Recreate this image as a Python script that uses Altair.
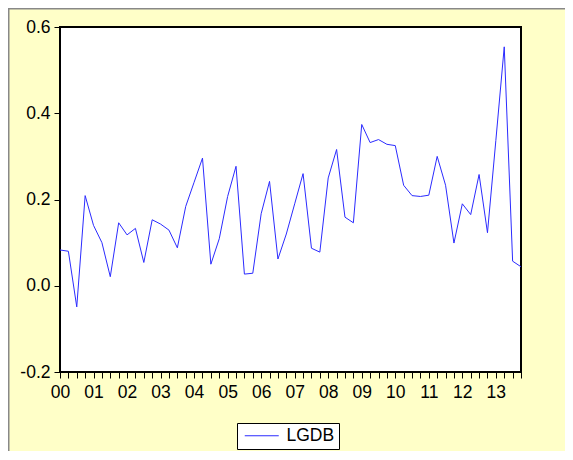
import json
import altair as alt
import pandas as pd

# Quarterly series LGDB, 2000Q1 .. 2013Q4
years = ["00", "01", "02", "03", "04", "05", "06", "07", "08", "09", "10", "11", "12", "13"]
lgdb = [
    0.083, 0.080, -0.049, 0.209,
    0.140, 0.100, 0.021, 0.146,
    0.118, 0.133, 0.054, 0.153,
    0.143, 0.129, 0.088, 0.184,
    0.240, 0.296, 0.050, 0.109,
    0.207, 0.277, 0.027, 0.029,
    0.167, 0.242, 0.062, 0.120,
    0.190, 0.260, 0.087, 0.078,
    0.250, 0.316, 0.159, 0.146,
    0.374, 0.332, 0.339, 0.328,
    0.325, 0.233, 0.209, 0.207,
    0.210, 0.300, 0.233, 0.099,
    0.190, 0.165, 0.258, 0.123,
    0.337, 0.554, 0.057, 0.044,
]
y_ticks = [-0.2, 0.0, 0.2, 0.4, 0.6]
series_name = "LGDB"

df = pd.DataFrame({
    "q": list(range(len(lgdb))),
    "value": lgdb,
    "series": [series_name] * len(lgdb),
})

FONT = "Liberation Sans"
label_expr = ("datum.value % 4 == 0 ? " + json.dumps(years).replace('"', "'")
              + "[datum.value / 4] : ''")

line = alt.Chart(df).mark_line(strokeWidth=1).encode(
    x=alt.X("q:Q",
            scale=alt.Scale(domain=[0, len(lgdb) - 1], nice=False, zero=False),
            axis=alt.Axis(values=list(range(len(lgdb))), labelExpr=label_expr,
                          title=None, grid=False, domain=False,
                          tickSize=6, tickColor="black", tickWidth=1,
                          labelFont=FONT, labelFontSize=17.5, labelColor="black",
                          labelPadding=5, labelOverlap=False, labelFlush=False)),
    y=alt.Y("value:Q",
            scale=alt.Scale(domain=[-0.2, 0.6], nice=False, zero=False),
            axis=alt.Axis(values=y_ticks,
                          labelExpr="replace(format(datum.value, '.1f'), '\u2212', '-')",
                          title=None, grid=False, domain=False,
                          tickSize=6, tickColor="black", tickWidth=1,
                          labelFont=FONT, labelFontSize=17.5, labelColor="black",
                          labelPadding=4, labelBaseline="middle", labelOverlap=False)),
    color=alt.Color("series:N",
                    scale=alt.Scale(domain=[series_name], range=["#2b2bff"]),
                    legend=alt.Legend(title=None, orient="none", legendX=177, legendY=396,
                                      strokeColor="black", fillColor="white", padding=4,
                                      symbolType="M-17,0H17", symbolSize=4,
                                      symbolStrokeWidth=1, symbolOffset=12,
                                      labelOffset=16, labelFont=FONT, labelFontSize=17.5,
                                      labelColor="black", labelLimit=200)),
)

frame_df = pd.DataFrame({"a": [0]})
top_edge = alt.Chart(frame_df).mark_rule(color="#888888", strokeWidth=2).encode(
    x=alt.value(-52), x2=alt.value(505), y=alt.value(-18.5))
left_edge = alt.Chart(frame_df).mark_rule(color="#888888", strokeWidth=2).encode(
    x=alt.value(-51.5), y=alt.value(-19), y2=alt.value(424))

chart = alt.layer(line, top_edge, left_edge).properties(
    width=461, height=345,
    autosize=alt.AutoSizeParams(type="none"),
    padding={"left": 52, "top": 19, "right": 44, "bottom": 79},
    background="#FFFFC8",
).configure_view(stroke="black", strokeWidth=2, fill="white")

chart.save("out.html", embed_options={"renderer": "svg", "actions": False})
